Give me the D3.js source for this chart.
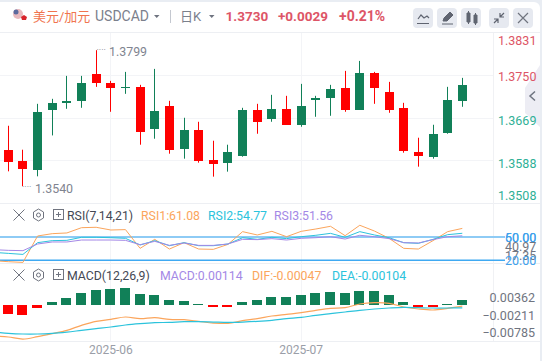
<!DOCTYPE html>
<html>
<head>
<meta charset="utf-8">
<script src="https://cdn.jsdelivr.net/npm/d3@7"></script>
<style>
  html, body { margin: 0; padding: 0; background: #e9edf3; overflow: hidden; }
  text { font-family: Roboto, "Noto Sans CJK SC", sans-serif; }
</style>
</head>
<body>
<div id="container"></div>
<script>
/* DATA */
const open  = [1.36095,1.35886,1.3572,1.36855,1.36988,1.37026,1.37539,1.37368,1.37273,1.37292,1.36494,1.36931,1.36114,1.36475,1.35905,1.35848,1.35981,1.36855,1.36684,1.36874,1.3657,1.37045,1.37083,1.37273,1.36855,1.37558,1.37197,1.36893,1.36057,1.35962,1.36418,1.37026];
const close = [1.35873,1.3574,1.36817,1.36988,1.37026,1.37368,1.37368,1.37273,1.37292,1.36437,1.36836,1.36095,1.36475,1.35886,1.35829,1.36057,1.36855,1.36627,1.36874,1.3657,1.36931,1.37083,1.37254,1.36855,1.37558,1.37273,1.36855,1.36076,1.35981,1.36399,1.37045,1.3733];
const high  = [1.36551,1.36095,1.36969,1.37064,1.37501,1.37501,1.3799,1.37406,1.37577,1.3733,1.37634,1.37026,1.36703,1.36627,1.36266,1.3619,1.36893,1.36969,1.3714,1.37121,1.37349,1.37121,1.3733,1.37596,1.37786,1.37577,1.37387,1.36988,1.36323,1.3657,1.37292,1.37463];
const low   = [1.35683,1.354,1.35588,1.36367,1.36874,1.36893,1.37292,1.36817,1.37159,1.3619,1.36304,1.36019,1.35924,1.35848,1.35582,1.35677,1.35962,1.36399,1.36627,1.3657,1.36532,1.36722,1.36741,1.36817,1.36855,1.36969,1.36798,1.36038,1.35772,1.35924,1.36399,1.36912];

// first entry of the indicator lines is the bar just off the left edge
const rsi1 = [19.5,18.2,17.3,51.3,54.3,55.2,62.0,62.5,59.0,59.5,35.4,47.0,34.5,42.7,34.5,34.1,40.5,56.9,52.6,57.3,50.4,57.3,60.3,63.8,51.7,65.1,57.7,48.3,35.4,34.5,45.3,56.9,61.08];
const rsi2 = [30.2,28.9,27.6,42.7,45.3,45.7,49.6,49.6,49.1,48.3,39.7,45.3,38.8,42.7,38.8,38.8,41,49.1,47,49.6,47.9,50.4,52.2,54.7,49.6,56.9,52.6,49.1,42.7,41.8,47,53,54.77];
const rsi3 = [33.7,32.8,32.4,41,43.6,43.6,46.1,46.1,46.1,45.7,40.1,44.4,39.2,42.3,39.2,39.2,41,47,46.6,47.9,46.1,48.3,49.1,50.4,47.4,52.2,50.4,47.9,42.7,42.3,46.6,50.4,51.56];

const macdHist = [-0.00304,-0.00337,-0.00098,0.00098,0.00219,0.00383,0.00481,0.00513,0.00546,0.0035,0.00317,0.00154,0.00121,0.00013,-0.00065,-0.00065,0.00088,0.00154,0.00252,0.00252,0.00317,0.00383,0.00415,0.00383,0.00448,0.00448,0.00317,0.00088,-0.00065,-0.00065,0.00016,0.00154];
const dif = [-0.01025,-0.01057,-0.01123,-0.01046,-0.00948,-0.00839,-0.00676,-0.00545,-0.0048,-0.00403,-0.00458,-0.00425,-0.0048,-0.00491,-0.00545,-0.006,-0.0061,-0.00523,-0.00458,-0.00371,-0.00316,-0.00262,-0.00185,-0.0012,-0.00098,0.00022,0.00065,0.00044,-0.00076,-0.00142,-0.00174,-0.0012,-0.00047];
const dea = [-0.00894,-0.00937,-0.00959,-0.00959,-0.00937,-0.00894,-0.00839,-0.00785,-0.0073,-0.00665,-0.00621,-0.00589,-0.00578,-0.00556,-0.00556,-0.00567,-0.00578,-0.00567,-0.00545,-0.00512,-0.00458,-0.00414,-0.00349,-0.00294,-0.0024,-0.00185,-0.00142,-0.00109,-0.00087,-0.00098,-0.00109,-0.00109,-0.00104];

const priceTicks = [1.3831,1.375,1.3669,1.3588,1.3508];
const rsiTicks = [50,60,40.97,17.35,20];
const macdTicks = [0.00362,-0.00211,-0.00785];
const monthLabels = [[7,"2025-06"],[20,"2025-07"]];

/* LAYOUT */
const width = 542, height = 361;
const up = "#118058", down = "#ff0000";
const red = "#dd5566", teal = "#2fb096", gray = "#6f7480";
const cOrange = "#fba55c", cCyan = "#2cc3dc", cPurple = "#a488e6";

const svg = d3.select("#container").append("svg")
  .attr("width", width).attr("height", height)
  .style("display", "block");

// card
svg.append("rect").attr("x", -6).attr("y", 2).attr("width", 546).attr("height", 370).attr("rx", 6).attr("fill", "#fff");

/* SCALES */
const xScale = d3.scaleLinear().domain([0, 31]).range([8.3, 462.3]);
const yPrice = d3.scaleLinear().domain([1.3508, 1.3831]).range([203, 33.4]);
const yRsi = d3.scaleLinear().domain([20, 50]).range([260.3, 237]);
const yMacd = d3.scaleLinear().domain([-0.00785, 0.00362]).range([328.7, 293.6]);
const crisp = i => Math.floor(xScale(i)) + 0.5;

// collapse tab on the right, sits under the axis labels
svg.append("path").attr("d", "M540 65L525 88V113L540 127z").attr("fill", "#ededf4");
svg.append("path").attr("d", "M535 91.5l-5 4.5 5 4.5").attr("fill", "none").attr("stroke", "#6f7480").attr("stroke-width", 1.5);

// separators + grid
[32.5, 203.5, 263.5, 341.5].forEach(y => svg.append("line").attr("x1", 0).attr("x2", 540).attr("y1", y).attr("y2", y).attr("stroke", "#edeff3"));
svg.selectAll("line.gridY").data(priceTicks.slice(1, 4)).join("line")
  .attr("class", "gridY")
  .attr("x1", 0).attr("x2", 494)
  .attr("y1", d => Math.floor(yPrice(d)) + 0.5).attr("y2", d => Math.floor(yPrice(d)) + 0.5)
  .attr("stroke", "#f3f4f7");
svg.selectAll("line.gridX").data(monthLabels).join("line")
  .attr("class", "gridX")
  .attr("x1", d => crisp(d[0])).attr("x2", d => crisp(d[0]))
  .attr("y1", 33).attr("y2", 341)
  .attr("stroke", "#f3f4f7");
svg.append("line").attr("x1", 493.5).attr("x2", 493.5).attr("y1", 33).attr("y2", 341).attr("stroke", "#f0f1f4");

/* CANDLES */
const idx = d3.range(open.length);
const bodyW = 9;
svg.selectAll("line.wick").data(idx).join("line")
  .attr("class", "wick")
  .attr("x1", crisp).attr("x2", crisp)
  .attr("y1", i => yPrice(high[i])).attr("y2", i => yPrice(low[i]))
  .attr("stroke", i => close[i] >= open[i] ? up : down);
svg.selectAll("rect.bar").data(idx).join("rect")
  .attr("class", "bar")
  .attr("x", i => crisp(i) - bodyW / 2)
  .attr("y", i => Math.round(yPrice(Math.max(open[i], close[i]))))
  .attr("width", bodyW)
  .attr("height", i => Math.max(1, Math.round(Math.abs(yPrice(open[i]) - yPrice(close[i])))))
  .attr("fill", i => close[i] >= open[i] ? up : down);

// high / low marks
svg.append("text").attr("x", 109).attr("y", 56).attr("font-size", 12.4).attr("fill", "#7f8490").text("1.3799");
svg.append("text").attr("x", 96.5).attr("y", 53).attr("font-size", 9).attr("fill", "#7f8490").text("····");
svg.append("text").attr("x", 35).attr("y", 193).attr("font-size", 12.4).attr("fill", "#7f8490").text("1.3540");
svg.append("text").attr("x", 22).attr("y", 190).attr("font-size", 9).attr("fill", "#7f8490").text("····");

/* AXES */
const priceNudge = [7, 1, 2, 3, -8];
const priceAxis = svg.append("g")
  .attr("transform", "translate(498,0)")
  .call(d3.axisRight(yPrice).tickValues(priceTicks).tickFormat(d3.format(".4f")).tickSize(0).tickPadding(0));
priceAxis.select(".domain").remove();
priceAxis.selectAll("text")
  .attr("font-size", 12.5).style("font-family", "Roboto")
  .attr("fill", d => d > 1.37 ? red : teal)
  .attr("dy", (d, i) => priceNudge[i] + 4);

/* RSI */
const clipId = "paneClip";
svg.append("clipPath").attr("id", clipId).append("rect").attr("x", 0).attr("y", 33).attr("width", 494).attr("height", 308);
const lineX = (d, i) => xScale(i - 1);
const rsiLine = d3.line().x(lineX).y(d => yRsi(d));
svg.append("line").attr("x1", 0).attr("x2", 505).attr("y1", yRsi(50)).attr("y2", yRsi(50)).attr("stroke", "#8ecbf5").attr("stroke-width", 2);
svg.append("line").attr("x1", 0).attr("x2", 505).attr("y1", yRsi(20)).attr("y2", yRsi(20)).attr("stroke", "#3fa9f2").attr("stroke-width", 1.5);
[[rsi1, cOrange], [rsi2, cCyan], [rsi3, cPurple]].forEach(([s, c]) => {
  svg.append("path").attr("d", rsiLine(s)).attr("fill", "none").attr("stroke", c).attr("clip-path", `url(#${clipId})`);
});
const rsiLabelY = [237, 237, 246, 255, 260];
const rsiLabelCol = ["#3fa1ec", "#3fa1ec", gray, gray, "#3fa1ec"];
svg.selectAll("text.rsiTick").data(rsiTicks).join("text")
  .attr("class", "rsiTick")
  .attr("x", 505).attr("text-anchor", "start")
  .attr("y", (d, i) => rsiLabelY[i] + 4.5)
  .attr("font-size", 12.5).attr("fill", (d, i) => rsiLabelCol[i])
  .text(d => d.toFixed(2));

/* MACD */
svg.selectAll("rect.hist").data(macdHist).join("rect")
  .attr("class", "hist")
  .attr("x", (d, i) => crisp(i) - 5.5)
  .attr("y", d => Math.round(Math.min(yMacd(d), yMacd(0))))
  .attr("width", 10)
  .attr("height", d => Math.max(1, Math.round(Math.abs(yMacd(d) - yMacd(0)))))
  .attr("fill", d => d >= 0 ? up : down);
const macdLine = d3.line().x(lineX).y(d => yMacd(d)).curve(d3.curveCatmullRom);
[[dif, cOrange], [dea, cCyan]].forEach(([s, c]) => {
  svg.append("path").attr("d", macdLine(s)).attr("fill", "none").attr("stroke", c).attr("stroke-width", 1.2).attr("clip-path", `url(#${clipId})`);
});
const macdAxis = svg.append("g")
  .attr("transform", "translate(491,0)")
  .call(d3.axisRight(yMacd).tickValues(macdTicks).tickFormat(d3.format(".5f")).tickSize(0).tickPadding(0));
macdAxis.select(".domain").remove();
macdAxis.selectAll("text")
  .attr("x", 44).attr("text-anchor", "end").attr("font-size", 12.5).attr("fill", gray)
  .attr("dy", 8);

/* MONTH LABELS */
svg.selectAll("text.month").data(monthLabels).join("text")
  .attr("class", "month")
  .attr("x", d => xScale(d[0])).attr("y", 354)
  .attr("text-anchor", "middle").attr("font-size", 12).attr("fill", "#9a9ea8")
  .text(d => d[1]);

/* HEADER */
const head = (x, text, size, fill, weight) => svg.append("text").attr("x", x).attr("y", 20.5).attr("font-size", size).attr("fill", fill).attr("font-weight", weight || 400).text(text);
head(33, "美元/加元", 13, "#f0744e");
head(95, "USDCAD", 14, "#7b808c");
head(180, "日K", 13, "#7b808c");
head(225.5, "1.3730", 13.5, red, 700);
head(278, "+0.0029", 13.5, red, 700);
head(339, "+0.21%", 14, red, 700);
svg.append("path").attr("d", "M154 15h5.5l-2.75 3z M209 15h5.5l-2.75 3z").attr("fill", "#6f7480");
svg.append("line").attr("x1", 170.5).attr("x2", 170.5).attr("y1", 10).attr("y2", 23).attr("stroke", "#c4c8d0");

// flag
svg.append("circle").attr("cx", 18).attr("cy", 14).attr("r", 5).attr("fill", "#e8b9bd");
svg.append("circle").attr("cx", 16).attr("cy", 12).attr("r", 2.5).attr("fill", "#5c6a9e");
svg.append("path").attr("d", "M21 17l3-2 3 2-1 3h-4z").attr("fill", "#d8232a");

// buttons
[413, 437, 461, 489, 513].forEach(x => svg.append("rect").attr("x", x).attr("y", 8).attr("width", 20).attr("height", 20).attr("rx", 4).attr("fill", "#e6e9f0"));
svg.append("path").attr("d", "M417 23.5h12 M418 19l3-4 3 3 3-2 2 2").attr("fill", "none").attr("stroke", "#5f6470").attr("stroke-width", 1.2);
svg.append("path").attr("d", "M442 24h11 M443 21l1-3 6-6 3 3-6 6z").attr("fill", "#5f6470").attr("stroke", "#5f6470");
svg.append("path").attr("d", "M467 13h3v9h-3z M474 15h3v8h-3z M468.5 11v13 M475.5 13v12").attr("fill", "#5f6470").attr("stroke", "#5f6470");
svg.append("path").attr("d", "M494 23l4-4 M504 13l-4 4 M494 19h4v4 M504 17h-4v-4").attr("fill", "none").attr("stroke", "#5f6470").attr("stroke-width", 1.2);
svg.append("path").attr("d", "M518 13l10 10 M528 13l-10 10").attr("fill", "none").attr("stroke", "#70747f").attr("stroke-width", 1.2);

/* PANE LEGENDS */
const paneIcons = (y) => {
  svg.append("path").attr("d", `M13.5 ${y - 5.5}l11 11 M24.5 ${y - 5.5}l-11 11`).attr("stroke", "#70747f").attr("fill", "none");
  svg.append("path").attr("d", `M38.5 ${y - 6}l5 3v6l-5 3-5-3v-6z`).attr("fill", "none").attr("stroke", "#70747f");
  svg.append("circle").attr("cx", 38.5).attr("cy", y).attr("r", 2).attr("fill", "none").attr("stroke", "#70747f");
  svg.append("rect").attr("x", 53.5).attr("y", y - 5.5).attr("width", 10).attr("height", 10).attr("fill", "none").attr("stroke", "#70747f");
  svg.append("path").attr("d", `M56 ${y - 0.5}h5 M58.5 ${y - 3}v5`).attr("stroke", "#70747f");
};
paneIcons(215);
paneIcons(275);
const leg = (x, y, text, fill) => svg.append("text").attr("x", x).attr("y", y).attr("font-size", 12.3).attr("fill", fill).text(text);
leg(67, 220, "RSI(7,14,21)", "#444854");
leg(141, 220, "RSI1:61.08", cOrange);
leg(208, 220, "RSI2:54.77", cCyan);
leg(274, 220, "RSI3:51.56", cPurple);
leg(67, 279.5, "MACD(12,26,9)", "#444854");
leg(160, 279.5, "MACD:0.00114", cPurple);
leg(252, 279.5, "DIF:-0.00047", cOrange);
leg(332, 279.5, "DEA:-0.00104", cCyan);
</script>
</body>
</html>
